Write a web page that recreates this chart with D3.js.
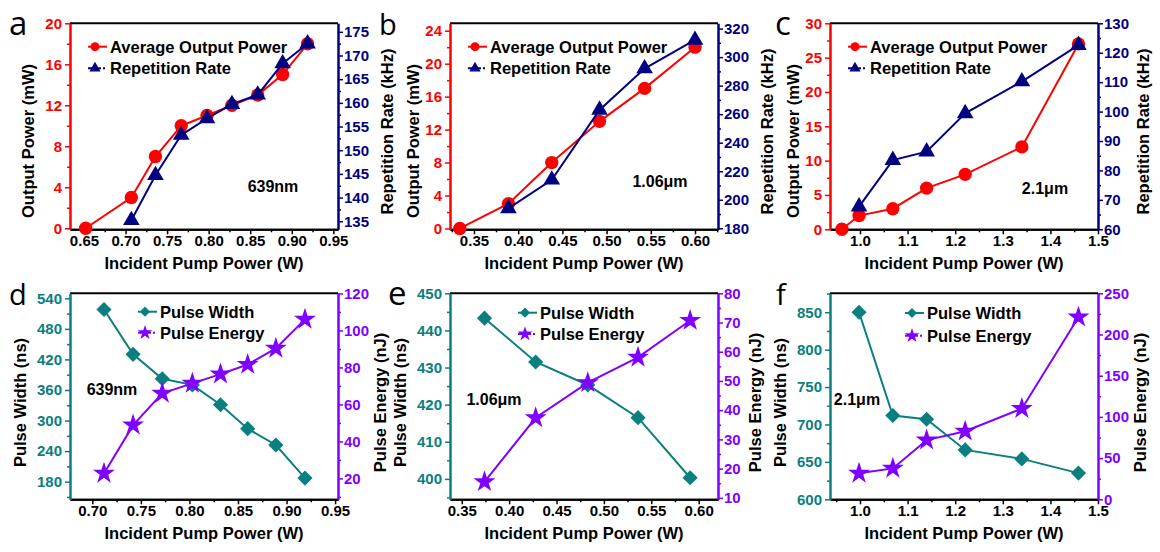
<!DOCTYPE html>
<html>
<head>
<meta charset="utf-8">
<script src="https://d3js.org/d3.v7.min.js"></script>
<style>
  body { margin: 0; background: #fff; }
  svg text { font-family: "Liberation Sans", Arial, sans-serif; font-weight: bold; }
  .letter { font-family: "Open Sans", sans-serif; font-weight: normal; }
</style>
</head>
<body>
<script>
// ---- panel a / d : 639 nm ----
var pumpA = [0.652, 0.707, 0.736, 0.767, 0.798, 0.828, 0.859, 0.889, 0.919];
var powerA = [0, 3, 7, 10, 11, 12, 13, 15, 18];
var rateA = [135.2, 144.7, 153.2, 156.7, 159.7, 161.7, 168.3, 172.5];   // from 2nd pump point on
var pumpD = [0.712, 0.742, 0.772, 0.803, 0.832, 0.860, 0.889, 0.919];
var widthD = [518, 430, 382, 370, 331, 284, 252, 187];
var energyD = [22.7, 48.8, 66, 71.4, 76.4, 81.6, 90.3, 106];

// ---- panel b / e : 1.06 um ----
var pumpB = [0.334, 0.389, 0.438, 0.492, 0.543, 0.600];
var powerB = [0, 3, 8, 13, 17, 22];
var rateB = [194, 214, 263, 292, 312];
var pumpE = [0.374, 0.428, 0.483, 0.536, 0.591];
var widthE = [443.3, 431.5, 425.3, 416.5, 400.3];
var energyE = [15.5, 37.4, 49.4, 58.1, 70.7];

// ---- panel c / f : 2.1 um ----
var pumpC = [0.962, 0.998, 1.069, 1.140, 1.221, 1.340, 1.459];
var powerC = [0, 2, 3, 6, 8, 12, 27];
var rateC = [67.7, 83.5, 86.4, 99.4, 110.2, 122.6];
var pumpF = [0.998, 1.069, 1.140, 1.221, 1.340, 1.459];
var widthF = [850, 712, 707, 666, 654, 635];
var energyF = [31.5, 37.5, 71.8, 82.6, 110, 221];

// ---- tick labels ----
var xTicksA = [0.65, 0.70, 0.75, 0.80, 0.85, 0.90, 0.95];
var xTicksD = [0.70, 0.75, 0.80, 0.85, 0.90, 0.95];
var xTicksB = [0.35, 0.40, 0.45, 0.50, 0.55, 0.60];
var xTicksC = [1.0, 1.1, 1.2, 1.3, 1.4, 1.5];
var powerTicksA = [0, 4, 8, 12, 16, 20];
var rateTicksA = [135, 140, 145, 150, 155, 160, 165, 170, 175];
var powerTicksB = [0, 4, 8, 12, 16, 20, 24];
var rateTicksB = [180, 200, 220, 240, 260, 280, 300, 320];
var powerTicksC = [0, 5, 10, 15, 20, 25, 30];
var rateTicksC = [60, 70, 80, 90, 100, 110, 120, 130];
var widthTicksD = [180, 240, 300, 360, 420, 480, 540];
var energyTicksD = [20, 40, 60, 80, 100, 120];
var widthTicksE = [400, 410, 420, 430, 440, 450];
var energyTicksE = [10, 20, 30, 40, 50, 60, 70, 80];
var widthTicksF = [600, 650, 700, 750, 800, 850];
var energyTicksF = [0, 50, 100, 150, 200, 250];

var RED = "#ff0000", NAVY = "#000080", TEAL = "#0a7f7f", PURPLE = "#8000ff";

var svg = d3.select("body").append("svg")
  .attr("width", 1160)
  .attr("height", 552);

var upper = { top: 23.3, bottom: 229.3 };
var lower = { top: 293.3, bottom: 499.3 };

var panels = [
  { letter: "a", size: 33, lx: 9, left: 70, right: 338, row: upper, xDomain: [0.6332, 0.9556], xTicks: xTicksA, xFmt: ".2f",
    yL: [-0.1, 20], yLTicks: powerTicksA, cL: RED, titleL: "Output Power (mW)", offL: 42,
    yR: [133.3, 176.8], yRTicks: rateTicksA, cR: NAVY, titleR: "Repetition Rate (kHz)", offR: 49,
    s1: { x: pumpA, y: powerA, sym: "circle", name: "Average Output Power" },
    s2: { x: pumpA.slice(1), y: rateA, sym: "triangle", name: "Repetition Rate" },
    note: "639nm", nx: 203, ny: 168.7, legX: 18, legY: [23.4, 45] },
  { letter: "b", size: 29, lx: 379, left: 450, right: 718, row: upper, xDomain: [0.3229, 0.626], xTicks: xTicksB, xFmt: ".2f",
    yL: [-0.1, 24.9], yLTicks: powerTicksB, cL: RED, titleL: "Output Power (mW)", offL: 37,
    yR: [179.3, 323.7], yRTicks: rateTicksB, cR: NAVY, titleR: "Repetition Rate (kHz)", offR: 49,
    s1: { x: pumpB, y: powerB, sym: "circle", name: "Average Output Power" },
    s2: { x: pumpB.slice(1), y: rateB, sym: "triangle", name: "Repetition Rate" },
    note: "1.06\u03bcm", nx: 210, ny: 163.7, legX: 18, legY: [23.4, 45] },
  { letter: "c", size: 33, lx: 775, left: 830, right: 1098, row: upper, xDomain: [0.937, 1.5], xTicks: xTicksC, xFmt: ".1f",
    yL: [0, 30], yLTicks: powerTicksC, cL: RED, titleL: "Output Power (mW)", offL: 37,
    yR: [60, 130], yRTicks: rateTicksC, cR: NAVY, titleR: "Repetition Rate (kHz)", offR: 45,
    s1: { x: pumpC, y: powerC, sym: "circle", name: "Average Output Power" },
    s2: { x: pumpC.slice(1), y: rateC, sym: "triangle", name: "Repetition Rate" },
    note: "2.1\u03bcm", nx: 215, ny: 170.7, legX: 18, legY: [23.4, 45] },
  { letter: "d", size: 29, lx: 9, left: 70, right: 338, row: lower, xDomain: [0.677, 0.953], xTicks: xTicksD, xFmt: ".2f",
    yL: [145.4, 549.8], yLTicks: widthTicksD, cL: TEAL, titleL: "Pulse Width (ns)", offL: 50,
    yR: [8.7, 120.1], yRTicks: energyTicksD, cR: PURPLE, titleR: "Pulse Energy (nJ)", offR: 42,
    s1: { x: pumpD, y: widthD, sym: "diamond", name: "Pulse Width" },
    s2: { x: pumpD, y: energyD, sym: "star", name: "Pulse Energy" },
    note: "639nm", nx: 42, ny: 101.7, legX: 68, legY: [18.4, 39.4] },
  { letter: "e", size: 33, lx: 388, left: 450, right: 718, row: lower, xDomain: [0.3376, 0.6204], xTicks: xTicksB, xFmt: ".2f",
    yL: [394.5, 450], yLTicks: widthTicksE, cL: TEAL, titleL: "Pulse Width (ns)", offL: 50,
    yR: [9.5, 80], yRTicks: energyTicksE, cR: PURPLE, titleR: "Pulse Energy (nJ)", offR: 37,
    s1: { x: pumpE, y: widthE, sym: "diamond", name: "Pulse Width" },
    s2: { x: pumpE, y: energyE, sym: "star", name: "Pulse Energy" },
    note: "1.06\u03bcm", nx: 44, ny: 111.7, legX: 68, legY: [19.4, 40.7] },
  { letter: "f", size: 29, lx: 776, left: 830, right: 1098, row: lower, xDomain: [0.937, 1.5], xTicks: xTicksC, xFmt: ".1f",
    yL: [600, 875.3], yLTicks: widthTicksF, cL: TEAL, titleL: "Pulse Width (ns)", offL: 50,
    yR: [0, 250], yRTicks: energyTicksF, cR: PURPLE, titleR: "Pulse Energy (nJ)", offR: 42,
    s1: { x: pumpF, y: widthF, sym: "diamond", name: "Pulse Width" },
    s2: { x: pumpF, y: energyF, sym: "star", name: "Pulse Energy" },
    note: "2.1\u03bcm", nx: 27, ny: 111.7, legX: 75, legY: [19.7, 42.4] }
];

// half-step minor ticks inside the domain
function minorTicks(major, domain) {
  var step = (major[1] - major[0]) / 2,
    lo = d3.min(domain), hi = d3.max(domain),
    out = [];
  for (var i = -20; i < 200; i++) {
    var v = major[0] + i * step;
    if (v >= lo - 1e-9 && v <= hi + 1e-9 && i % 2 !== 0) out.push(v);
  }
  return out;
}

function symbolPath(sym, big) {
  var k = big ? 1 : 0.45;
  if (sym === "circle") return d3.symbol(d3.symbolCircle, 140 * k)();
  if (sym === "triangle") return d3.symbol(d3.symbolTriangle, 120 * k)();
  if (sym === "diamond") return d3.symbol(d3.symbolSquare, 115 * k)();
  return d3.symbol(d3.symbolStar, 150 * k)();
}

function drawAxis(g, axisFn, scale, major, fmt, color, pad) {
  g.append("g")
    .call(axisFn(scale).tickValues(minorTicks(major, scale.domain()))
      .tickSize(3).tickFormat("").tickSizeOuter(0));
  g.append("g")
    .call(axisFn(scale).tickValues(major).tickSize(5).tickPadding(pad)
      .tickFormat(d3.format(fmt)).tickSizeOuter(0));
  g.selectAll("line").attr("stroke", color).attr("stroke-width", 1.5);
  g.selectAll("path.domain").attr("stroke", color).attr("stroke-width", 2);
  g.selectAll("text")
    .attr("fill", color)
    .style("font-family", "'Liberation Sans', Arial, sans-serif")
    .style("font-weight", "bold")
    .style("font-size", "15px");
}

panels.forEach(function(p) {
  var top = p.row.top, bottom = p.row.bottom;
  var x = d3.scaleLinear().domain(p.xDomain).range([p.left, p.right]);
  var yL = d3.scaleLinear().domain(p.yL).range([bottom, top]);
  var yR = d3.scaleLinear().domain(p.yR).range([bottom, top]);
  var g = svg.append("g");

  // top frame line
  g.append("line")
    .attr("x1", p.left).attr("x2", p.right)
    .attr("y1", top).attr("y2", top)
    .attr("stroke", "#000").attr("stroke-width", 2);

  drawAxis(g.append("g").attr("transform", "translate(0," + bottom + ")"),
    d3.axisBottom, x, p.xTicks, p.xFmt, "#000", 1);
  drawAxis(g.append("g").attr("transform", "translate(" + p.left + ",0)"),
    d3.axisLeft, yL, p.yLTicks, "d", p.cL, 3);
  drawAxis(g.append("g").attr("transform", "translate(" + p.right + ",0)"),
    d3.axisRight, yR, p.yRTicks, "d", p.cR, 1);

  // axis titles
  g.append("text")
    .attr("x", (p.left + p.right) / 2)
    .attr("y", bottom + 39.5)
    .attr("text-anchor", "middle")
    .style("font-size", "16.5px")
    .text("Incident Pump Power (W)");

  var midL = p.row === upper ? 141 : 402.5;
  var midR = p.row === upper ? 131.5 : 402.5;
  g.append("text")
    .attr("transform", "translate(" + (p.left - p.offL) + "," + midL + ") rotate(-90)")
    .attr("text-anchor", "middle")
    .attr("dy", "0.35em")
    .style("font-size", "16.5px")
    .text(p.titleL);
  g.append("text")
    .attr("transform", "translate(" + (p.right + p.offR) + "," + midR + ") rotate(-90)")
    .attr("text-anchor", "middle")
    .attr("dy", "0.35em")
    .style("font-size", "16.5px")
    .text(p.titleR);

  // series
  var series = [
    { s: p.s1, y: yL, color: p.cL },
    { s: p.s2, y: yR, color: p.cR }
  ];
  series.forEach(function(d) {
    var pts = d.s.x.map(function(v, i) { return [v, d.s.y[i]]; });
    var line = d3.line()
      .x(function(q) { return x(q[0]); })
      .y(function(q) { return d.y(q[1]); });
    g.append("path")
      .datum(pts)
      .attr("d", line)
      .attr("fill", "none")
      .attr("stroke", d.color)
      .attr("stroke-width", 2);
    g.selectAll(null)
      .data(pts)
      .enter().append("path")
      .attr("d", symbolPath(d.s.sym, true))
      .attr("transform", function(q) {
        return "translate(" + x(q[0]) + "," + d.y(q[1]) + ")" +
          (d.s.sym === "diamond" ? " rotate(45)" : "");
      })
      .attr("fill", d.color);
  });

  // legend
  series.forEach(function(d, i) {
    var ly = top + p.legY[i], lx = p.left + p.legX;
    g.append("line")
      .attr("x1", lx).attr("x2", lx + 19)
      .attr("y1", ly).attr("y2", ly)
      .attr("stroke", d.color).attr("stroke-width", 2)
      .attr("stroke-dasharray", i === 1 ? "13,2,2,2" : null);
    g.append("path")
      .attr("d", symbolPath(d.s.sym, false))
      .attr("transform", "translate(" + (lx + 7) + "," + ly + ")" +
        (d.s.sym === "diamond" ? " rotate(45)" : ""))
      .attr("fill", d.color);
    g.append("text")
      .attr("x", lx + 22)
      .attr("y", ly)
      .attr("dy", "0.36em")
      .style("font-size", "16.5px")
      .text(d.s.name);
  });

  // wavelength note
  g.append("text")
    .attr("x", p.left + p.nx)
    .attr("y", top + p.ny)
    .attr("text-anchor", "middle")
    .style("font-size", "16px")
    .text(p.note);

  // panel letter
  g.append("text")
    .attr("class", "letter")
    .attr("x", p.lx)
    .attr("y", p.row === upper ? 35 : 305)
    .style("font-size", p.size + "px")
    .text(p.letter);
});
</script>
</body>
</html>
